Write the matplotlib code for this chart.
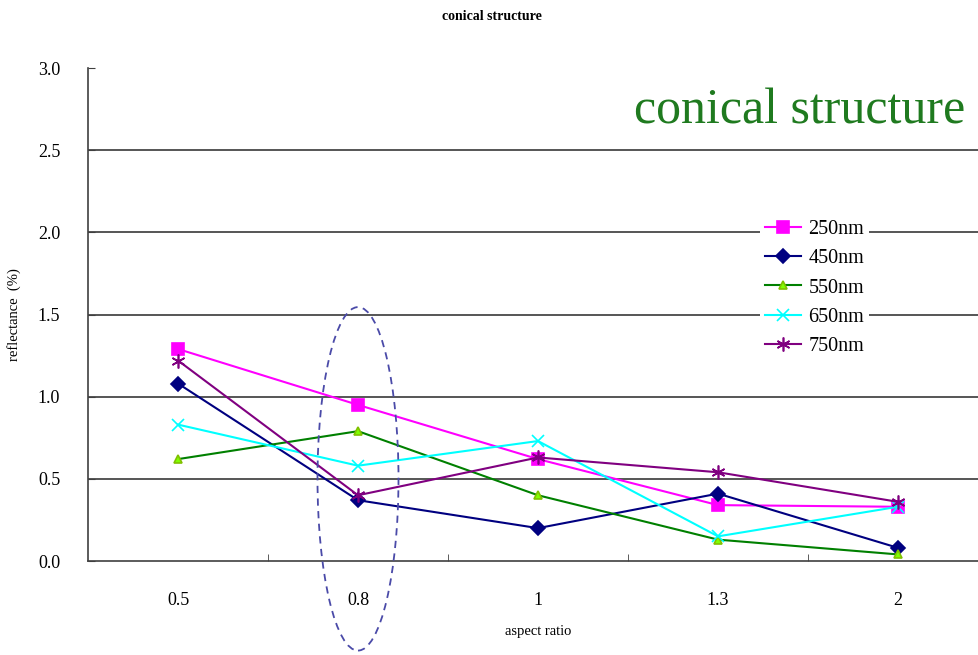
import matplotlib.pyplot as plt
from matplotlib.patches import Ellipse

# data
categories = ['0.5', '0.8', '1', '1.3', '2']
r250 = [1.29, 0.95, 0.62, 0.34, 0.33]
r450 = [1.08, 0.37, 0.20, 0.41, 0.08]
r550 = [0.62, 0.79, 0.40, 0.13, 0.04]
r650 = [0.83, 0.58, 0.73, 0.15, 0.33]
r750 = [1.22, 0.40, 0.63, 0.54, 0.36]
labels = ['250nm', '450nm', '550nm', '650nm', '750nm']
yticks = [0.0, 0.5, 1.0, 1.5, 2.0, 2.5, 3.0]

serif = ['Liberation Serif', 'DejaVu Serif']
plt.rcParams['font.family'] = serif

fig = plt.figure(figsize=(9.79, 6.55), dpi=100)
ax = fig.add_axes([88 / 979, 1 - 561 / 655, 900 / 979, (561 - 68) / 655])

x = list(range(len(categories)))
styles = [
    dict(color='#ff00ff', marker='s', ms=8, mfc='#ff00ff', mec='#ff00ff'),
    dict(color='#000080', marker='D', ms=7, mfc='#000080', mec='#000080'),
    dict(color='#008000', marker='^', ms=6, mfc='#80ff00', mec='#80c000'),
    dict(color='#00ffff', marker='x', ms=9, mfc='none', mec='#00ffff'),
    dict(color='#800080', marker=(6, 2, 0), ms=10, mfc='none', mec='#800080'),
]
for vals, lab, st in zip([r250, r450, r550, r650, r750], labels, styles):
    ax.plot(x, vals, label=lab, lw=1.5, mew=1.2, **st)

ax.set_xlim(-0.5, 4.5)
ax.set_ylim(0, 3.0)
ax.set_xticks(x)
ax.set_xticklabels(categories, fontsize=13)
ax.set_xticks([0.5, 1.5, 2.5, 3.5], minor=True)
ax.tick_params(axis='x', which='major', length=0, pad=22)
ax.tick_params(axis='x', which='minor', direction='in', length=5, color='#404040')
ax.set_yticks(yticks)
ax.set_yticklabels([f'{v:.1f}' for v in yticks], fontsize=13)
ax.tick_params(axis='y', direction='in', length=5, color='#404040', pad=20)

for v in yticks[1:-1]:
    ax.axhline(v, color='#555555', lw=1.4, zorder=0)

for s in ['top', 'right']:
    ax.spines[s].set_visible(False)
for s in ['left', 'bottom']:
    ax.spines[s].set_color('#404040')
    ax.spines[s].set_linewidth(1.2)

ax.set_xlabel('aspect ratio', fontsize=10.5, labelpad=12)
ax.set_ylabel('reflectance  (%)', fontsize=10.5, labelpad=12)

# dashed ellipse around the 0.8 group
ell = Ellipse((1, 0.5), 0.45, 2.09, fill=False, ls=(0, (4, 3)),
              ec='#4a4aa8', lw=1.3, clip_on=False, zorder=5)
ax.add_patch(ell)

leg = ax.legend(loc='upper left', bbox_to_anchor=(750 / 979, 1 - 205 / 655),
                bbox_transform=fig.transFigure, fontsize=14.5, frameon=True,
                edgecolor='none', facecolor='white', framealpha=1,
                labelspacing=0.5, handlelength=1.8, handletextpad=0.35,
                borderpad=0.25, fancybox=False)

fig.text(492 / 979, 1 - 16 / 655, 'conical structure', ha='center', va='center',
         fontsize=10, fontweight='bold')
fig.text(965 / 979, 1 - 124 / 655, 'conical structure', ha='right',
         va='baseline', fontsize=36, color='#1f7a1f')

fig.savefig('out.png', dpi=100)
